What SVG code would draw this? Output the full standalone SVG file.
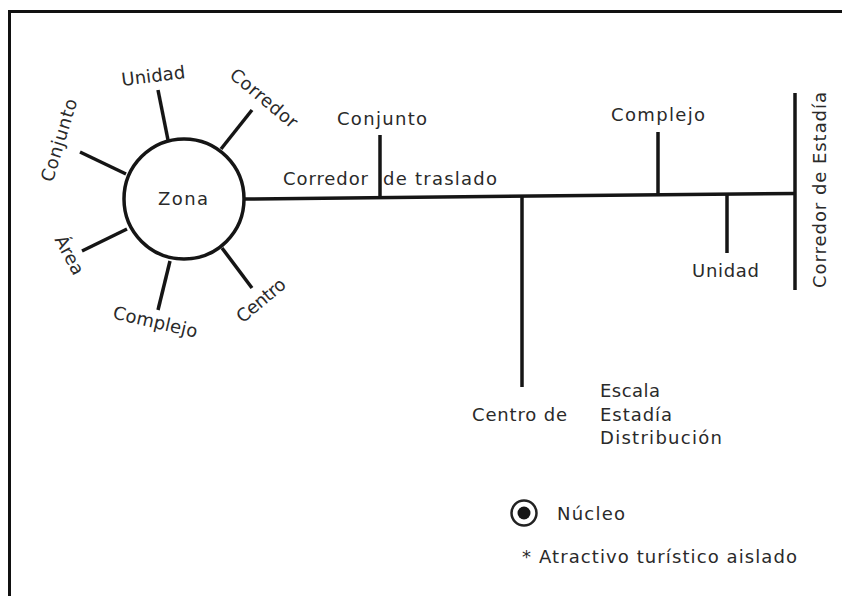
<svg xmlns="http://www.w3.org/2000/svg" width="842" height="596" viewBox="0 0 842 596">
<style>
.ln{stroke:#151515;stroke-width:3.5;fill:none;stroke-linecap:butt}
.fr{stroke:#111;stroke-width:3;fill:none}
text{font-family:"DejaVu Sans","Liberation Sans",Arial,sans-serif;font-size:18px;fill:#2a2a2a}
.m{text-anchor:middle}
</style>
<rect width="842" height="596" fill="#fff"/>
<path class="fr" d="M9.5 596 V11.5 H842"/>
<g id="connectors">
<line class="ln" x1="244" y1="199" x2="796" y2="193.5"/>
<line class="ln" x1="158" y1="90" x2="168" y2="140"/>
<line class="ln" x1="252" y1="110" x2="221" y2="149"/>
<line class="ln" x1="80" y1="152" x2="126" y2="174"/>
<line class="ln" x1="82" y1="251" x2="127" y2="229"/>
<line class="ln" x1="158" y1="310" x2="170" y2="261"/>
<line class="ln" x1="252" y1="288" x2="222" y2="248"/>
<line class="ln" x1="380" y1="135" x2="380" y2="197.5"/>
<line class="ln" x1="658" y1="132" x2="658" y2="194.5"/>
<line class="ln" x1="522" y1="196.5" x2="522" y2="387"/>
<line class="ln" x1="727" y1="194" x2="727" y2="253"/>
<line class="ln" x1="795" y1="93" x2="795" y2="290"/>
</g>
<g id="zona">
<circle cx="184" cy="199" r="60" fill="#fff" stroke="#151515" stroke-width="3.5"/>
<text class="m" x="183" y="205" textLength="50" lengthAdjust="spacing">Zona</text>
</g>
<g id="zona-unidad"><text class="m" transform="translate(154,82) rotate(-7)" textLength="64" lengthAdjust="spacing">Unidad</text></g>
<g id="zona-corredor"><text class="m" transform="translate(260,103) rotate(40)" textLength="82" lengthAdjust="spacing">Corredor</text></g>
<g id="zona-conjunto"><text class="m" transform="translate(65,142) rotate(-73)" textLength="86" lengthAdjust="spacing">Conjunto</text></g>
<g id="zona-area"><text class="m" transform="translate(64,258) rotate(62)" textLength="42" lengthAdjust="spacing">Área</text></g>
<g id="zona-complejo"><text class="m" transform="translate(154,328) rotate(13)" textLength="86" lengthAdjust="spacing">Complejo</text></g>
<g id="zona-centro"><text class="m" transform="translate(265,305) rotate(-40)" textLength="58" lengthAdjust="spacing">Centro</text></g>
<g id="corredor-traslado">
<text x="283" y="185" textLength="85" lengthAdjust="spacing">Corredor</text>
<text x="383" y="185" textLength="114" lengthAdjust="spacing">de traslado</text>
</g>
<g id="conjunto"><text x="337" y="125" textLength="90" lengthAdjust="spacing">Conjunto</text></g>
<g id="complejo"><text x="611" y="121" textLength="94" lengthAdjust="spacing">Complejo</text></g>
<g id="unidad"><text x="692" y="277" textLength="67" lengthAdjust="spacing">Unidad</text></g>
<g id="corredor-estadia"><text class="m" transform="translate(826,190) rotate(-90)" textLength="196" lengthAdjust="spacing">Corredor de Estadía</text></g>
<g id="centro-de">
<text x="472" y="421" textLength="95" lengthAdjust="spacing">Centro de</text>
<text x="600" y="397" textLength="60" lengthAdjust="spacing">Escala</text>
<text x="600" y="421" textLength="72" lengthAdjust="spacing">Estadía</text>
<text x="600" y="444" textLength="122" lengthAdjust="spacing">Distribución</text>
</g>
<g id="legend">
<circle cx="524" cy="513" r="12.5" fill="#fff" stroke="#222" stroke-width="2.5"/>
<circle cx="524" cy="513" r="6.5" fill="#151515"/>
<text x="557" y="520" textLength="68" lengthAdjust="spacing">Núcleo</text>
<text x="522" y="563" textLength="275" lengthAdjust="spacing">* Atractivo turístico aislado</text>
</g>
</svg>
